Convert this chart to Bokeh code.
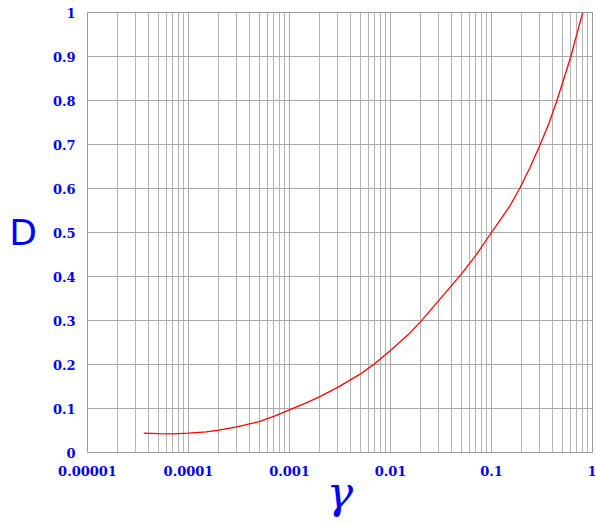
from bokeh.plotting import figure
from bokeh.models import FixedTicker
from bokeh.embed import file_html
from bokeh.resources import INLINE

# data
gamma = [3.6e-5, 5e-5, 7e-5, 1e-4, 1.5e-4, 2e-4, 3e-4, 5e-4, 7e-4, 1e-3, 1.5e-3,
         2e-3, 3e-3, 5e-3, 7e-3, 1e-2, 1.5e-2, 2e-2, 3e-2, 5e-2, 7e-2, 0.1, 0.15,
         0.19, 0.24, 0.3, 0.37, 0.44, 0.52, 0.61, 0.7, 0.8]
D = [0.044, 0.043, 0.0425, 0.044, 0.047, 0.051, 0.058, 0.070, 0.082, 0.097, 0.114,
     0.127, 0.148, 0.178, 0.202, 0.232, 0.268, 0.298, 0.345, 0.405, 0.448, 0.500, 0.558,
     0.600, 0.647, 0.697, 0.748, 0.797, 0.849, 0.900, 0.951, 1.000]

x_ticks = [1e-5, 1e-4, 1e-3, 1e-2, 1e-1, 1.0]
x_tick_labels = ["0.00001", "0.0001", "0.001", "0.01", "0.1", "1"]
y_ticks = [0.0, 0.1, 0.2, 0.3, 0.4, 0.5, 0.6, 0.7, 0.8, 0.9, 1.0]
y_tick_labels = ["0", "0.1", "0.2", "0.3", "0.4", "0.5", "0.6", "0.7", "0.8", "0.9", "1"]
x_label = "γ"
y_label = "D"

x_minor = [m * t for t in x_ticks[:-1] for m in range(2, 10)]

p = figure(width=596, height=524, x_axis_type="log",
           x_range=(1e-5, 1.0), y_range=(0.0, 1.0),
           output_backend="svg", toolbar_location=None,
           min_border_left=87, min_border_right=4, min_border_top=12,
           min_border_bottom=72)

p.line(gamma, D, line_color="#ff0000", line_width=1.3)

p.xaxis.ticker = FixedTicker(ticks=x_ticks, minor_ticks=x_minor)
p.yaxis.ticker = FixedTicker(ticks=y_ticks)
p.xaxis.major_label_overrides = dict(zip(x_ticks, x_tick_labels))
p.yaxis.major_label_overrides = dict(zip(y_ticks, y_tick_labels))

for ax in (p.xaxis, p.yaxis):
    ax.axis_line_color = None
    ax.major_tick_line_color = None
    ax.minor_tick_line_color = None
    ax.major_label_text_font = "DejaVu Serif"
    ax.major_label_text_font_style = "bold"
    ax.major_label_text_font_size = "13px"
    ax.major_label_text_color = "#0000ff"
    ax.axis_label_text_color = "#0000ff"

p.xaxis.major_label_standoff = 7
p.yaxis.major_label_standoff = 6

p.xaxis.axis_label = x_label
p.xaxis.axis_label_text_font = "DejaVu Serif"
p.xaxis.axis_label_text_font_style = "italic"
p.xaxis.axis_label_text_font_size = "44px"
p.xaxis.axis_label_standoff = -12

p.yaxis.axis_label = y_label
p.yaxis.axis_label_text_font = "DejaVu Sans"
p.yaxis.axis_label_text_font_style = "normal"
p.yaxis.axis_label_text_font_size = "36px"
p.yaxis.axis_label_orientation = "horizontal"
p.yaxis.axis_label_standoff = 13

p.xgrid.grid_line_color = "#aaaaaa"
p.xgrid.minor_grid_line_color = "#b4b4b4"
p.ygrid.grid_line_color = "#aaaaaa"
p.outline_line_color = "#999999"
p.background_fill_color = "white"

open("out.html", "w").write(file_html(p, INLINE))
